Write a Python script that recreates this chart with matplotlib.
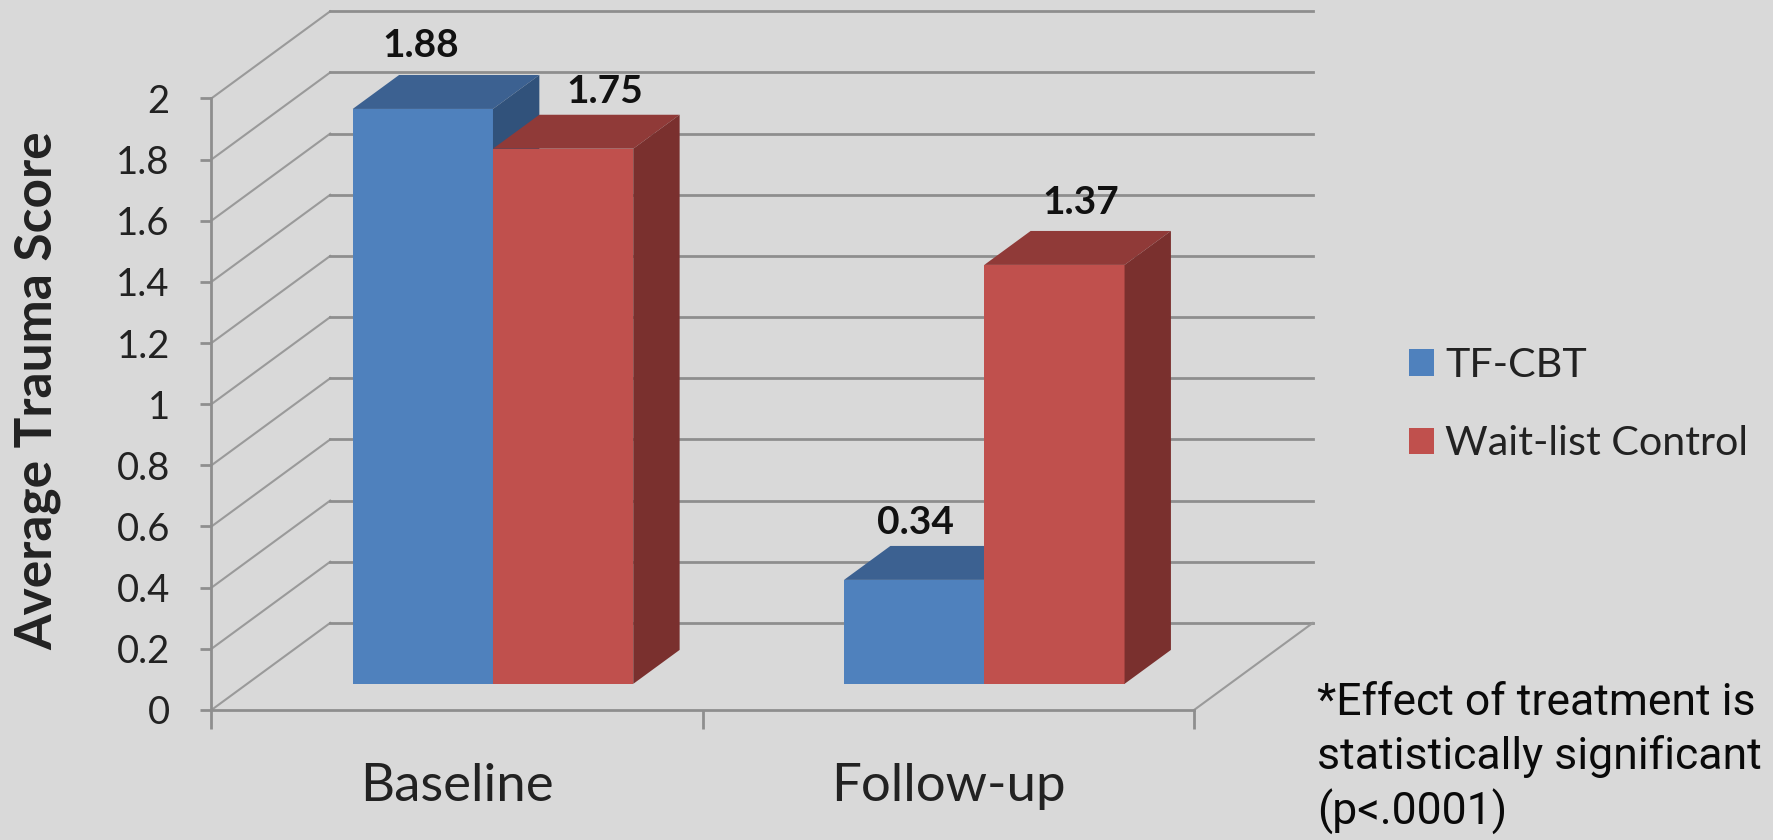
#!/usr/bin/env python
import matplotlib
matplotlib.use('Agg')
import matplotlib.pyplot as plt
from matplotlib.patches import Polygon

categories = ['Baseline', 'Follow-up']
series_names = ['TF-CBT', 'Wait-list Control']
tf_cbt = [1.88, 0.34]
wait_list = [1.75, 1.37]
y_ticks = [0, 0.2, 0.4, 0.6, 0.8, 1, 1.2, 1.4, 1.6, 1.8, 2]
y_tick_labels = ['0', '0.2', '0.4', '0.6', '0.8', '1', '1.2', '1.4', '1.6', '1.8', '2']

BG = '#d9d9d9'
GRID = '#8e8e8e'
TEXT = '#111111'
plt.rcParams['font.family'] = ['Lato', 'DejaVu Sans']

# oblique projection: how far the back wall sits from the front edge
WALL_DX = 0.2417
WALL_DY = 0.2847
# the bars stand part way into the floor
BAR_FRONT = 0.30
BAR_DX = 0.0944
BAR_DY = 0.111
BAR_W = 0.2855
BAR_START = 0.215

W, H = 1568.0, 743.0
fig = plt.figure(figsize=(17.73, 8.40), dpi=100, facecolor=BG)
ax = fig.add_axes([187 / W, (H - 628) / H, (1056 - 187) / W, (628 - 87) / H])
ax.set_facecolor('none')
ax.set_xlim(0, 2)
ax.set_ylim(0, 2)
for side in ['top', 'right']:
    ax.spines[side].set_visible(False)
for side in ['left', 'bottom']:
    ax.spines[side].set_color(GRID)
    ax.spines[side].set_linewidth(2)

# walls and floor
for v in y_ticks:
    ax.plot([0, WALL_DX], [v, v + WALL_DY], color='#9a9a9a', lw=1.5, clip_on=False, zorder=1)
    ax.plot([WALL_DX, 2 + WALL_DX], [v + WALL_DY, v + WALL_DY], color=GRID, lw=2, clip_on=False, zorder=1)
ax.plot([2, 2 + WALL_DX], [0, WALL_DY], color='#9a9a9a', lw=1.5, clip_on=False, zorder=1)


def draw_bar(x, val, color, top_color, side_color, z, label=None):
    y0 = BAR_FRONT * WALL_DY
    x0 = x + BAR_FRONT * WALL_DX
    ax.bar(x0, val, BAR_W, bottom=y0, align='edge', color=color, clip_on=False, zorder=z, label=label)
    x1 = x0 + BAR_W
    y1 = y0 + val
    top = [(x0, y1), (x1, y1), (x1 + BAR_DX, y1 + BAR_DY), (x0 + BAR_DX, y1 + BAR_DY)]
    side = [(x1, y0), (x1 + BAR_DX, y0 + BAR_DY), (x1 + BAR_DX, y1 + BAR_DY), (x1, y1)]
    ax.add_patch(Polygon(top, closed=True, fc=top_color, ec='none', clip_on=False, zorder=z))
    ax.add_patch(Polygon(side, closed=True, fc=side_color, ec='none', clip_on=False, zorder=z))


# blue first, the red bar sits in front of its side face
for i in range(len(categories)):
    draw_bar(i + BAR_START, tf_cbt[i], '#4f81bd', '#3c6191', '#31527b', 3,
             series_names[0] if i == 0 else None)
    draw_bar(i + BAR_START + BAR_W, wait_list[i], '#c0504d', '#903a38', '#7a302e', 4,
             series_names[1] if i == 0 else None)

# value labels, offsets in pixels from the top front of each bar
offsets = {(0, 0): (-2, 56), (0, 1): (37, 51), (1, 0): (1, 51), (1, 1): (23, 55)}
for i in range(len(categories)):
    for j, vals in enumerate([tf_cbt, wait_list]):
        x = i + BAR_START + BAR_W * (j + 0.5) + BAR_FRONT * WALL_DX
        y = vals[i] + BAR_FRONT * WALL_DY
        ox, oy = offsets[(i, j)]
        ax.annotate('%.2f' % vals[i], (x, y), xytext=(ox * 1.1307 * 0.72, oy * 1.1307 * 0.72),
                    textcoords='offset points', ha='center', va='center', fontsize=28,
                    fontweight='bold', color=TEXT, zorder=6, annotation_clip=False)

ax.set_yticks(y_ticks)
ax.set_yticklabels(y_tick_labels)
ax.tick_params(axis='y', length=8, width=2, color=GRID, labelsize=27.5, labelcolor='#222222', pad=22)
ax.set_xticks([0, 1, 2])
ax.set_xticklabels([])
ax.set_xticks([0.5, 1.5], minor=True)
ax.set_xticklabels(categories, minor=True)
ax.tick_params(axis='x', which='major', length=14, width=2, color=GRID)
ax.tick_params(axis='x', which='minor', length=0, labelsize=38, labelcolor='#222222', pad=38)

fig.text(33 / W, 1 - 346 / H, 'Average Trauma Score', rotation=90, ha='center', va='center',
         fontsize=37, fontweight='bold', color='#222222')

handles, labels = ax.get_legend_handles_labels()
ax.legend(handles, labels, loc='center left', bbox_to_anchor=(1246 / W, 1 - 358 / H),
          bbox_transform=fig.transFigure, frameon=False, fontsize=29.7, labelcolor='#222222',
          handlelength=0.6, handleheight=0.6, handletextpad=0.28, labelspacing=1.0,
          borderpad=0, borderaxespad=0)

fig.text(1165 / W, 1 - 603 / H, '*Effect of treatment is\nstatistically significant\n(p<.0001)',
         ha='left', va='top', fontsize=32, color='#0a0a0a', linespacing=1.32,
         family=['Roboto', 'DejaVu Sans'])

fig.savefig('out.png', dpi=100, facecolor=BG)
